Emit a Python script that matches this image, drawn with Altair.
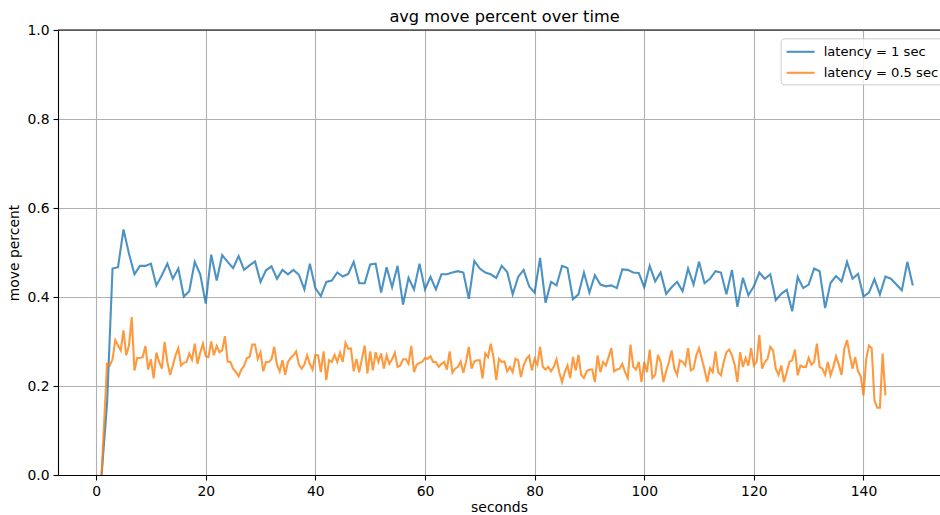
import altair as alt
import pandas as pd

# ---- data ----
series_names = ["latency = 1 sec", "latency = 0.5 sec"]
series_colors = ["#1f77b4", "#ff7f0e"]

blue_seconds = list(range(1, 150))
blue_values = [
    0.0, 0.16, 0.464, 0.467, 0.552, 0.497, 0.451, 0.470, 0.470, 0.475,
    0.426, 0.449, 0.475, 0.441, 0.464, 0.401, 0.413, 0.479, 0.451, 0.385,
    0.495, 0.437, 0.494, 0.479, 0.465, 0.492, 0.461, 0.471, 0.480, 0.434,
    0.460, 0.469, 0.441, 0.461, 0.451, 0.461, 0.450, 0.417, 0.475, 0.420,
    0.402, 0.434, 0.437, 0.455, 0.446, 0.452, 0.479, 0.431, 0.431, 0.473,
    0.475, 0.410, 0.467, 0.422, 0.470, 0.383, 0.443, 0.417, 0.475, 0.417,
    0.445, 0.417, 0.451, 0.451, 0.455, 0.458, 0.455, 0.396, 0.481, 0.464,
    0.455, 0.451, 0.443, 0.470, 0.456, 0.406, 0.445, 0.461, 0.424, 0.410,
    0.488, 0.387, 0.434, 0.426, 0.470, 0.465, 0.395, 0.406, 0.455, 0.410,
    0.449, 0.428, 0.424, 0.426, 0.420, 0.462, 0.461, 0.455, 0.454, 0.422,
    0.470, 0.435, 0.455, 0.407, 0.422, 0.434, 0.413, 0.464, 0.428, 0.479,
    0.431, 0.441, 0.458, 0.455, 0.406, 0.461, 0.378, 0.443, 0.404, 0.424,
    0.455, 0.441, 0.451, 0.393, 0.407, 0.416, 0.368, 0.445, 0.420, 0.428,
    0.464, 0.458, 0.375, 0.432, 0.447, 0.435, 0.479, 0.441, 0.452, 0.401,
    0.410, 0.440, 0.406, 0.446, 0.441, 0.428, 0.415, 0.479, 0.426,
]

# orange series sampled every half second, from 1 s to 144 s
orange_values = [
    0.0, 0.125, 0.250, 0.246, 0.260, 0.303, 0.291, 0.280, 0.325, 0.269,
    0.291, 0.355, 0.235, 0.263, 0.263, 0.265, 0.290, 0.237, 0.260, 0.217,
    0.275, 0.254, 0.239, 0.299, 0.254, 0.225, 0.246, 0.269, 0.285, 0.246,
    0.252, 0.254, 0.273, 0.259, 0.295, 0.250, 0.275, 0.295, 0.267, 0.265,
    0.300, 0.269, 0.290, 0.276, 0.280, 0.312, 0.255, 0.254, 0.239, 0.231,
    0.222, 0.237, 0.245, 0.263, 0.265, 0.293, 0.293, 0.261, 0.276, 0.233,
    0.254, 0.254, 0.260, 0.288, 0.248, 0.233, 0.258, 0.225, 0.254, 0.263,
    0.269, 0.278, 0.248, 0.239, 0.248, 0.269, 0.250, 0.237, 0.270, 0.269,
    0.231, 0.278, 0.213, 0.258, 0.254, 0.270, 0.254, 0.275, 0.254, 0.297,
    0.284, 0.284, 0.233, 0.261, 0.231, 0.261, 0.291, 0.228, 0.278, 0.235,
    0.276, 0.254, 0.273, 0.239, 0.269, 0.250, 0.260, 0.275, 0.243, 0.246,
    0.260, 0.260, 0.250, 0.290, 0.231, 0.248, 0.252, 0.254, 0.263, 0.261,
    0.267, 0.254, 0.254, 0.243, 0.250, 0.254, 0.237, 0.278, 0.230, 0.239,
    0.243, 0.255, 0.230, 0.255, 0.288, 0.239, 0.255, 0.258, 0.258, 0.217,
    0.273, 0.265, 0.295, 0.265, 0.213, 0.261, 0.254, 0.255, 0.233, 0.243,
    0.231, 0.261, 0.258, 0.220, 0.246, 0.261, 0.268, 0.235, 0.261, 0.248,
    0.288, 0.243, 0.237, 0.243, 0.233, 0.243, 0.260, 0.231, 0.209, 0.231,
    0.246, 0.218, 0.265, 0.235, 0.270, 0.225, 0.218, 0.233, 0.237, 0.237,
    0.209, 0.269, 0.231, 0.254, 0.246, 0.265, 0.285, 0.233, 0.237, 0.239,
    0.250, 0.231, 0.218, 0.293, 0.243, 0.237, 0.254, 0.209, 0.254, 0.231,
    0.282, 0.218, 0.225, 0.270, 0.254, 0.209, 0.233, 0.254, 0.280, 0.239,
    0.225, 0.258, 0.254, 0.246, 0.285, 0.235, 0.239, 0.269, 0.285, 0.261,
    0.237, 0.209, 0.240, 0.231, 0.278, 0.231, 0.224, 0.254, 0.276, 0.282,
    0.269, 0.248, 0.209, 0.276, 0.243, 0.263, 0.246, 0.285, 0.246, 0.254,
    0.315, 0.239, 0.254, 0.261, 0.288, 0.280, 0.239, 0.225, 0.246, 0.209,
    0.231, 0.254, 0.258, 0.282, 0.224, 0.246, 0.243, 0.243, 0.263, 0.248,
    0.254, 0.295, 0.243, 0.239, 0.225, 0.254, 0.224, 0.243, 0.267, 0.248,
    0.225, 0.284, 0.303, 0.269, 0.239, 0.265, 0.233, 0.222, 0.179, 0.261,
    0.291, 0.285, 0.168, 0.151, 0.151, 0.273, 0.179,
]
orange_seconds = [1 + 0.5 * i for i in range(len(orange_values))]

x_ticks = [0, 20, 40, 60, 80, 100, 120, 140]
y_ticks = [0.0, 0.2, 0.4, 0.6, 0.8, 1.0]

df = pd.concat([
    pd.DataFrame({"seconds": blue_seconds, "move": blue_values, "series": series_names[0]}),
    pd.DataFrame({"seconds": orange_seconds, "move": orange_values, "series": series_names[1]}),
], ignore_index=True)

W, H = 882, 445
FONT = "DejaVu Sans"

lines = alt.Chart(df).mark_line(strokeWidth=2.1, opacity=0.8, clip=True).encode(
    x=alt.X("seconds:Q",
            scale=alt.Scale(domain=[-6.95, 153.96], nice=False, zero=False),
            axis=alt.Axis(values=x_ticks, title="seconds", format="d",
                          titlePadding=3)),
    y=alt.Y("move:Q",
            scale=alt.Scale(domain=[0, 1], nice=False),
            axis=alt.Axis(values=y_ticks, title="move percent", format=".1f",
                          titlePadding=5)),
    color=alt.Color("series:N",
                    scale=alt.Scale(domain=series_names, range=series_colors),
                    legend=alt.Legend(title=None, orient="none",
                                      legendX=722.7, legendY=8.3,
                                      symbolType="M-0.95,0H2.55",
                                      symbolSize=256, symbolStrokeWidth=2.1,
                                      symbolOpacity=0.8,
                                      labelFont=FONT, labelFontSize=13.1,
                                      labelColor="black", labelOffset=20,
                                      padding=4, rowPadding=4,
                                      fillColor="rgba(255,255,255,0.8)",
                                      strokeColor="#cccccc",
                                      cornerRadius=3)),
    order=alt.Order("seconds:Q"),
)

top_spine = alt.Chart(pd.DataFrame({"k": [0]})).mark_rule(
    color="black", strokeWidth=1.1
).encode(x=alt.value(0), x2=alt.value(W), y=alt.value(0))

chart = alt.layer(lines, top_spine).properties(
    width=W, height=H,
    title=alt.Title("avg move percent over time", font=FONT, fontSize=16.2,
                    fontWeight="normal", color="black", anchor="middle",
                    frame="group", dx=5.5, dy=8, offset=6),
    autosize=alt.AutoSizeParams(type="none"),
    padding={"left": 58, "top": 30, "right": 0, "bottom": 40},
).configure_view(stroke=None).configure_axis(
    domainColor="black", domainWidth=1.1,
    tickColor="black", tickWidth=1.1, tickSize=5,
    labelFont=FONT, labelFontSize=13.9, labelColor="black", labelPadding=4,
    titleFont=FONT, titleFontSize=13.9, titleFontWeight="normal", titleColor="black",
    grid=True, gridColor="#b0b0b0", gridWidth=1.1,
)

chart.save("out.html", embed_options={"renderer": "svg", "actions": False})
